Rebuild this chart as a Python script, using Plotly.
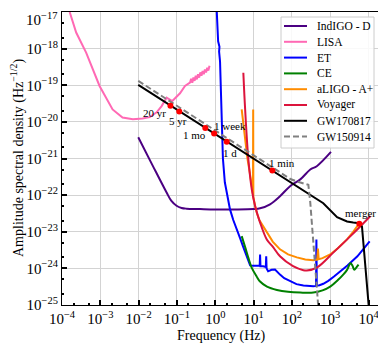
import numpy as np
import plotly.graph_objects as go

# values, as log10(frequency / Hz) and log10(ASD)
indigo_logf = [-2.01, -1.64, -1.27, -1.15, -1.01, -0.88, -0.75, -0.40, 0.0, 0.5, 1.0, 1.17,
               1.43, 1.69, 1.96, 2.22, 2.48, 2.65, 3.02]
indigo_logh = [-20.42, -21.18, -21.93, -22.15, -22.29, -22.35, -22.37, -22.38, -22.39, -22.39,
               -22.38, -22.36, -22.25, -22.03, -21.75, -21.57, -21.30, -21.21, -20.82]

lisa_logf = [-3.80, -3.63, -3.37, -3.02, -2.68, -2.42, -2.15, -1.90, -1.71, -1.53, -1.40, -1.27, -1.12, -0.92,
             -0.79, -0.66, -0.63, -0.60, -0.57, -0.54, -0.51, -0.48, -0.45, -0.42, -0.39, -0.36, -0.33, -0.30,
             -0.27, -0.24, -0.21, -0.18, -0.15]
lisa_logh = [-17.00, -17.56, -18.11, -19.02, -19.66, -19.88, -19.93, -19.91, -19.87, -19.74, -19.57, -19.34,
             -19.43, -19.22, -19.02, -18.93, -18.82, -18.93, -18.79, -18.88, -18.74, -18.84, -18.70, -18.79,
             -18.65, -18.74, -18.61, -18.70, -18.57, -18.65, -18.52, -18.60, -18.47]

et_logf = [0.04, 0.085, 0.075, 0.11, 0.10, 0.125, 0.15, 0.17, 0.20, 0.25, 0.33, 0.385, 0.47, 0.57, 0.65, 0.725,
           0.82, 0.91, 1.00, 1.10, 1.16, 1.17, 1.18, 1.25, 1.32, 1.33, 1.34, 1.38, 1.47, 1.56, 1.62, 1.69, 1.80,
           1.96, 2.12, 2.30, 2.45, 2.56, 2.63, 2.64, 2.65, 2.72, 2.82, 2.95, 3.10, 3.26, 3.45, 3.71, 3.85, 4.03]
et_logh = [-17.00, -17.68, -17.80, -17.95, -18.08, -18.35, -19.20, -19.85, -21.00, -21.65, -22.12, -22.39,
           -22.68, -22.94, -23.18, -23.40, -23.68, -23.92, -23.93, -23.92, -23.93, -23.62, -23.94, -23.94,
           -23.96, -23.67, -24.00, -24.08, -24.04, -24.03, -24.10, -24.17, -24.27, -24.36, -24.43, -24.47,
           -24.49, -24.49, -24.48, -23.21, -24.47, -24.46, -24.42, -24.34, -24.22, -24.09, -23.92, -23.67,
           -23.50, -23.26]

ce_logf = [0.69, 0.78, 0.86, 0.95, 1.08, 1.17, 1.35, 1.61, 1.90, 2.22, 2.56, 2.80, 3.00, 3.20, 3.34, 3.44, 3.53,
           3.58, 3.63, 3.68, 3.74]
ce_logh = [-23.12, -23.42, -23.70, -23.98, -24.22, -24.36, -24.50, -24.59, -24.64, -24.66, -24.66, -24.60,
           -24.50, -24.32, -24.17, -24.04, -23.86, -23.92, -24.04, -23.98, -23.90]

aligo_logf = [0.69, 0.74, 0.79, 0.84, 0.90, 0.95, 0.985, 0.99, 0.995, 1.04, 1.08, 1.15, 1.25, 1.35, 1.50, 1.69,
              1.90, 2.13, 2.35, 2.56, 2.66, 2.68, 2.70, 2.80, 3.00, 3.20, 3.44, 3.60, 3.74]
aligo_logh = [-19.66, -20.10, -20.60, -21.00, -21.38, -21.75, -21.98, -19.66, -22.05, -22.30, -22.47, -22.68,
              -22.86, -23.02, -23.27, -23.48, -23.62, -23.70, -23.76, -23.78, -23.76, -23.46, -23.75, -23.72,
              -23.62, -23.45, -23.21, -23.00, -22.80]

voyager_logf = [0.733, 0.78, 0.864, 0.953, 1.04, 1.17, 1.345, 1.51, 1.69, 2.03, 2.30, 2.39, 2.65, 3.08, 3.53,
                3.79, 4.05]
voyager_logh = [-18.66, -19.66, -21.02, -21.84, -22.30, -22.75, -23.21, -23.42, -23.67, -23.94, -24.05, -24.06,
                -23.98, -23.57, -23.12, -22.85, -22.57]

gw170817_logf = [-2.01, 1.49, 1.78, 2.13, 2.82, 3.18, 3.44, 3.60, 3.76, 3.83, 4.02]
gw170817_logh = [-18.99, -21.33, -21.54, -21.76, -22.22, -22.60, -22.72, -22.75, -22.77, -22.86, -25.20]

gw150914_logf = [-2.01, 1.50, 1.96, 2.20, 2.35, 2.43, 2.48, 2.61, 2.70]
gw150914_logh = [-18.88, -21.23, -21.56, -21.65, -21.69, -21.72, -22.20, -24.03, -25.20]

# time-to-merger markers on GW170817
marker_labels = ["20 yr", "5 yr", "1 mo", "1 week", "1 d", "1 min", "merger"]
marker_logf = [-1.17, -0.94, -0.26, -0.03, 0.30, 1.49, 3.76]
marker_logh = [-19.56, -19.72, -20.17, -20.32, -20.54, -21.33, -22.78]
label_logf = [-1.58, -0.98, -0.53, 0.385, 0.385, 1.74, 3.79]
label_logh = [-19.77, -19.97, -20.37, -20.10, -20.86, -21.13, -22.48]

x_exponents = list(range(-4, 5))
y_exponents = list(range(-25, -16))

curves = [
    ("IndIGO - D", indigo_logf, indigo_logh, "#4b0082", "solid", "spline"),
    ("LISA", lisa_logf, lisa_logh, "#ff69b4", "solid", "linear"),
    ("ET", et_logf, et_logh, "#0000ff", "solid", "linear"),
    ("CE", ce_logf, ce_logh, "#008000", "solid", "spline"),
    ("aLIGO - A+", aligo_logf, aligo_logh, "#ff8c00", "solid", "linear"),
    ("Voyager", voyager_logf, voyager_logh, "#dc143c", "solid", "spline"),
    ("GW170817", gw170817_logf, gw170817_logh, "black", "solid", "linear"),
    ("GW150914", gw150914_logf, gw150914_logh, "gray", "6px,3px", "linear"),
]

SERIF = "Liberation Serif"
PAGE = 8  # the html body margin shifts the figure by 8 px
W, H = 386 - PAGE, 349 - PAGE
L, R, T, B = 62 - PAGE, 6, 12 - PAGE, 44


def px(x):
    # page pixel -> paper fraction
    return (x - PAGE - L) / (W - L - R)


def py(y):
    return (H - B - (y - PAGE)) / (H - T - B)


def power_label(e):
    return f"10<sup>{e}</sup>".replace("-", "−")


fig = go.Figure()
for name, lf, lh, color, dash, shape in curves:
    fig.add_trace(go.Scatter(
        x=10 ** np.array(lf), y=10 ** np.array(lh), mode="lines", name=name, showlegend=False,
        line=dict(color=color, width=2, dash=dash, shape=shape),
    ))

fig.add_trace(go.Scatter(
    x=10 ** np.array(marker_logf), y=10 ** np.array(marker_logh), mode="markers",
    marker=dict(color="red", size=6), showlegend=False,
))

for text, lf, lh in zip(marker_labels, label_logf, label_logh):
    fig.add_annotation(x=lf, y=lh, text=text, showarrow=False,
                       font=dict(family=SERIF, size=11, color="black"))

# legend box drawn by hand so the rows sit as tightly as in the reference
fig.add_shape(type="rect", xref="paper", yref="paper", x0=px(281), x1=px(374), y0=py(148), y1=py(17),
              line=dict(color="#cccccc", width=1), fillcolor="rgba(255,255,255,0.85)", layer="above")
for i, (name, lf, lh, color, dash, shape) in enumerate(curves):
    row_y = py(26 + i * 15.8)
    fig.add_shape(type="line", xref="paper", yref="paper", x0=px(284), x1=px(307), y0=row_y, y1=row_y,
                  line=dict(color=color, width=2, dash=dash), layer="above")
    fig.add_annotation(xref="paper", yref="paper", x=px(315), y=row_y, text=name, showarrow=False,
                       xanchor="left", yanchor="middle", font=dict(family=SERIF, size=11.5, color="black"))

# axis titles
fig.add_annotation(xref="paper", yref="paper", x=px(221), y=py(336), text="Frequency (Hz)", showarrow=False,
                   xanchor="center", yanchor="middle", font=dict(family=SERIF, size=14, color="black"))
fig.add_annotation(xref="paper", yref="paper", x=px(17), y=py(158), textangle=-90,
                   text="Amplitude spectral density (Hz<sup>−1/2</sup>)", showarrow=False,
                   xanchor="center", yanchor="middle", font=dict(family=SERIF, size=14, color="black"))

# the top y label would be clipped at the page edge, so it is drawn a few px lower
fig.add_annotation(xref="paper", yref="paper", x=px(59), y=py(8.5), text=power_label(y_exponents[-1]),
                   showarrow=False, xanchor="right", yanchor="top",
                   font=dict(family=SERIF, size=15, color="black"))

axis_common = dict(
    type="log", automargin=False,
    showline=True, linecolor="black", linewidth=1, mirror=True,
    ticks="inside", ticklen=5, tickwidth=1.5, tickcolor="black",
    minor=dict(ticks="inside", ticklen=2, tickcolor="black", showgrid=False),
    showgrid=True, gridcolor="#d3d3d3", gridwidth=1, zeroline=False,
    tickfont=dict(family=SERIF, size=15, color="black"),
)

fig.update_xaxes(range=[-4.0001, 4.3], tickvals=[10.0 ** e for e in x_exponents],
                 ticktext=[power_label(e) for e in x_exponents], **axis_common)
fig.update_yaxes(range=[-25.0001, -16.9999], tickvals=[10.0 ** e for e in y_exponents],
                 ticktext=[power_label(e) for e in y_exponents[:-1]] + [""], **axis_common)

fig.update_layout(
    width=W, height=H,
    margin=dict(l=L, r=R, t=T, b=B),
    plot_bgcolor="white", paper_bgcolor="white",
    font=dict(family=SERIF, color="black"),
    showlegend=False,
)

fig.write_html("out.html")
